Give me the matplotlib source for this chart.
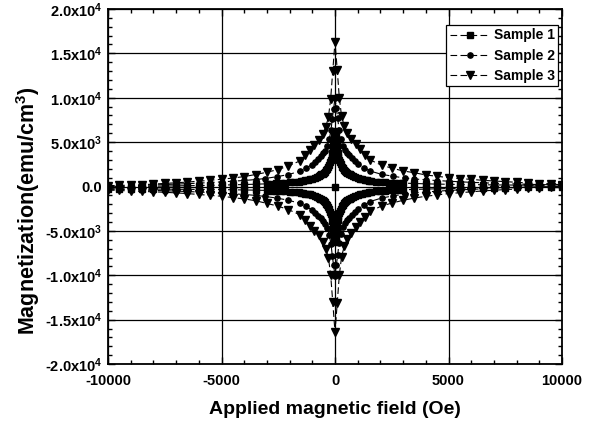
import numpy as np
import matplotlib
matplotlib.use("Agg")
import matplotlib.pyplot as plt
from matplotlib.ticker import MultipleLocator, FixedLocator, FixedFormatter

plt.rcParams['font.family'] = ['Liberation Sans', 'DejaVu Sans']
plt.rcParams['font.weight'] = 'bold'
plt.rcParams['mathtext.fontset'] = 'custom'
plt.rcParams['mathtext.rm'] = 'Liberation Sans:bold'
plt.rcParams['mathtext.bf'] = 'Liberation Sans:bold'
plt.rcParams['mathtext.default'] = 'bf'

# ---------------- data (magnetization in units of 1e3 emu/cm^3) ----------------
field1 = [-10000, -9500, -9000, -8500, -8000, -7500, -7000, -6500, -6000, -5500, -5000, -4500, -4000, -3500, -3000,
          -2800, -2600, -2400, -2200, -2000, -1800, -1600, -1500, -1400, -1300, -1200, -1100, -1000, -900, -800, -700,
          -650, -600, -550, -500, -450, -400, -350, -300, -250, -200, -175, -150, -125, -100, -75, -50, -25,
          0,
          25, 50, 75, 100, 125, 150, 175, 200, 250, 300, 350, 400, 450, 500, 550, 600, 650, 700, 800, 900, 1000,
          1100, 1200, 1300, 1400, 1500, 1600, 1800, 2000, 2200, 2400, 2600, 2800,
          3000, 3500, 4000, 4500, 5000, 5500, 6000, 6500, 7000, 7500, 8000, 8500, 9000, 9500, 10000]
upper1 = [-0.05, -0.03, -0.01, 0.01, 0.03, 0.05, 0.07, 0.09, 0.11, 0.13, 0.16, 0.19, 0.22, 0.26, 0.30,
          0.33, 0.36, 0.39, 0.42, 0.46, 0.50, 0.56, 0.60, 0.64, 0.69, 0.74, 0.80, 0.87, 0.95, 1.05, 1.20,
          1.28, 1.36, 1.45, 1.55, 1.68, 1.82, 2.00, 2.20, 2.45, 2.75, 2.95, 3.25, 3.75, 4.25, 4.85, 5.25, 5.75,
          6.3,
          5.8, 5.3, 4.9, 4.3, 3.8, 3.3, 3.0, 2.8, 2.5, 2.25, 2.05, 1.9, 1.75, 1.62, 1.52, 1.45, 1.37, 1.3, 1.15, 1.03, 0.95,
          0.87, 0.8, 0.75, 0.7, 0.65, 0.61, 0.55, 0.5, 0.47, 0.44, 0.42, 0.4,
          0.38, 0.34, 0.3, 0.27, 0.25, 0.23, 0.21, 0.2, 0.18, 0.17, 0.16, 0.15, 0.14, 0.13, 0.12]
lower1 = [-0.25, -0.26, -0.27, -0.28, -0.29, -0.30, -0.31, -0.32, -0.33, -0.34, -0.35, -0.37, -0.39, -0.41, -0.44,
          -0.46, -0.48, -0.51, -0.54, -0.57, -0.61, -0.66, -0.70, -0.74, -0.79, -0.84, -0.90, -0.97, -1.05, -1.15, -1.30,
          -1.38, -1.46, -1.55, -1.65, -1.78, -1.92, -2.10, -2.30, -2.55, -2.85, -3.05, -3.35, -3.85, -4.35, -4.90, -5.30, -5.80,
          -6.3,
          -5.8, -5.3, -4.9, -4.3, -3.8, -3.3, -3.0, -2.8, -2.5, -2.25, -2.05, -1.9, -1.75, -1.62, -1.52, -1.45, -1.37, -1.3, -1.15, -1.03, -0.95,
          -0.87, -0.8, -0.75, -0.7, -0.65, -0.61, -0.55, -0.5, -0.47, -0.44, -0.42, -0.4,
          -0.37, -0.33, -0.29, -0.26, -0.23, -0.2, -0.18, -0.16, -0.14, -0.12, -0.1, -0.08, -0.06, -0.04, -0.02]
init1_field = [0]
init1_mag = [0.0]

field2 = [-10000, -9500, -9000, -8500, -8000, -7500, -7000, -6500, -6000, -5500, -5000, -4500, -4000, -3500,
          -3085, -2570, -2050, -1540, -1280, -1030, -880, -735, -620, -515, -430, -340, -250, -175, -120, -60,
          0,
          60, 120, 175, 250, 340, 430, 515, 620, 735, 880, 1030, 1280, 1540, 2050, 2570, 3085,
          3500, 4000, 4500, 5000, 5500, 6000, 6500, 7000, 7500, 8000, 8500, 9000, 9500, 10000]
upper2 = [0.0, 0.04, 0.08, 0.12, 0.17, 0.22, 0.27, 0.32, 0.38, 0.45, 0.52, 0.6, 0.68, 0.78,
          0.9, 1.1, 1.35, 1.72, 2.05, 2.45, 2.8, 3.15, 3.45, 3.75, 4.05, 4.55, 5.35, 6.35, 7.65, 8.75,
          10.0,
          8.8, 7.7, 6.4, 5.4, 4.6, 4.1, 3.8, 3.5, 3.2, 2.85, 2.5, 2.1, 1.75, 1.37, 1.15, 0.95,
          0.85, 0.75, 0.67, 0.6, 0.53, 0.47, 0.42, 0.37, 0.33, 0.29, 0.25, 0.22, 0.19, 0.16]
lower2 = [-0.3, -0.33, -0.36, -0.4, -0.44, -0.48, -0.52, -0.57, -0.62, -0.68, -0.75, -0.82, -0.9, -1.0,
          -1.12, -1.3, -1.55, -1.9, -2.25, -2.6, -2.95, -3.3, -3.6, -3.9, -4.2, -4.7, -5.5, -6.5, -7.8, -8.9,
          -10.1,
          -8.8, -7.7, -6.4, -5.4, -4.6, -4.1, -3.8, -3.5, -3.2, -2.85, -2.5, -2.1, -1.7, -1.3, -1.05, -0.85,
          -0.72, -0.62, -0.53, -0.45, -0.38, -0.32, -0.27, -0.22, -0.17, -0.13, -0.09, -0.05, -0.02, 0.02]

field3 = [-10000, -9500, -9000, -8500, -8000, -7500, -7000, -6500, -6000, -5500, -5000, -4500, -4000, -3500,
          -3010, -2530, -2050, -1540, -1300, -1100, -910, -720, -540, -410, -290, -190, -100,
          0,
          100, 190, 290, 410, 540, 720, 910, 1100, 1300, 1540, 2050, 2530, 3010,
          3500, 4000, 4500, 5000, 5500, 6000, 6500, 7000, 7500, 8000, 8500, 9000, 9500, 10000]
upper3 = [0.1, 0.12, 0.16, 0.2, 0.27, 0.35, 0.42, 0.5, 0.6, 0.7, 0.82, 0.95, 1.12, 1.35,
          1.6, 1.9, 2.3, 2.9, 3.5, 4.1, 4.7, 5.2, 5.9, 6.7, 7.8, 9.9, 13.0,
          16.3,
          13.1, 10.0, 7.9, 6.8, 6.0, 5.3, 4.8, 4.2, 3.6, 3.0, 2.4, 2.05, 1.75,
          1.55, 1.3, 1.15, 1.0, 0.9, 0.8, 0.7, 0.62, 0.55, 0.47, 0.4, 0.33, 0.27, 0.2]
lower3 = [-0.4, -0.45, -0.5, -0.55, -0.6, -0.65, -0.72, -0.8, -0.9, -1.0, -1.1, -1.25, -1.4, -1.6,
          -1.9, -2.2, -2.6, -3.2, -3.8, -4.4, -5.0, -5.5, -6.2, -7.0, -8.0, -10.0, -13.0,
          -16.4,
          -13.1, -10.0, -7.9, -6.7, -5.9, -5.2, -4.6, -4.0, -3.4, -2.8, -2.2, -1.85, -1.55,
          -1.3, -1.1, -0.95, -0.8, -0.7, -0.6, -0.5, -0.42, -0.35, -0.28, -0.2, -0.12, -0.05, 0.05]

labels = ["Sample 1", "Sample 2", "Sample 3"]
y_ticks = [-20000, -15000, -10000, -5000, 0, 5000, 10000, 15000, 20000]
y_ticklabels = [r"-2.0x10$^4$", r"-1.5x10$^4$", r"-1.0x10$^4$", r"-5.0x10$^3$", "0.0",
                r"5.0x10$^3$", r"1.0x10$^4$", r"1.5x10$^4$", r"2.0x10$^4$"]
x_ticks = [-10000, -5000, 0, 5000, 10000]
x_ticklabels = ["-10000", "-5000", "0", "5000", "10000"]

# ---------------- figure ----------------
fig = plt.figure(figsize=(6.09, 4.25), dpi=100)
ax = fig.add_axes([108/609, 1-364/425, (562-108)/609, (364-9)/425])

ax.grid(True, which='major', color='black', linewidth=0.9, zorder=0)
ax.set_axisbelow(True)

lw = 0.8
dash = (0, (6, 3))
styles = [dict(marker='s', ms=3.8), dict(marker='o', ms=3.8), dict(marker='v', ms=5.2)]
series = [(field1, upper1, lower1), (field2, upper2, lower2), (field3, upper3, lower3)]
handles = []
for (f, up, lo), st, lab in zip(series, styles, labels):
    f = np.asarray(f, float)
    h, = ax.plot(f, np.asarray(up) * 1e3, color='black', linestyle=dash, lw=lw,
                 mfc='black', mec='black', label=lab, zorder=3, **st)
    ax.plot(f, np.asarray(lo) * 1e3, color='black', linestyle=dash, lw=lw,
            mfc='black', mec='black', zorder=3, **st)
    handles.append(h)
ax.plot(init1_field, np.asarray(init1_mag) * 1e3, linestyle='none', color='black',
        marker='s', ms=3.8, zorder=3)

ax.set_xlim(-10000, 10000)
ax.set_ylim(-20000, 20000)
ax.xaxis.set_major_locator(FixedLocator(x_ticks))
ax.xaxis.set_major_formatter(FixedFormatter(x_ticklabels))
ax.yaxis.set_major_locator(FixedLocator(y_ticks))
ax.yaxis.set_major_formatter(FixedFormatter(y_ticklabels))
ax.xaxis.set_minor_locator(MultipleLocator(1000))
ax.yaxis.set_minor_locator(MultipleLocator(1000))
ax.tick_params(which='both', direction='in', top=True, right=True, width=1.0)
ax.tick_params(which='major', length=5, labelsize=10.5)
ax.tick_params(axis='x', which='major', pad=7)
ax.tick_params(axis='y', which='major', pad=4)
ax.tick_params(which='minor', length=3)
for lbl in ax.get_xticklabels() + ax.get_yticklabels():
    lbl.set_fontweight('bold')
for sp in ax.spines.values():
    sp.set_linewidth(1.3)

ax.set_xlabel("Applied magnetic field (Oe)", fontsize=14, fontweight='bold')
ax.xaxis.label.set_verticalalignment('center')
ax.xaxis.set_label_coords(0.5, (364 - 410) / 355)
ax.set_ylabel(r"Magnetization(emu/cm$^3$)", fontsize=15.5, fontweight='bold')
ax.yaxis.label.set_verticalalignment('center')
ax.yaxis.set_label_coords((28 - 108) / 454, (364 - 211) / 355)

leg = ax.legend(handles=handles, loc='upper right', bbox_to_anchor=((558 - 108) / 454, (364 - 25) / 355),
                fontsize=10, frameon=True, fancybox=False,
                edgecolor='black', framealpha=1, handlelength=2.9, borderpad=0.25,
                labelspacing=0.45, handletextpad=0.25, borderaxespad=0.0)
leg.get_frame().set_linewidth(0.9)
for t in leg.get_texts():
    t.set_fontweight('bold')

fig.savefig("out.png", dpi=100)
